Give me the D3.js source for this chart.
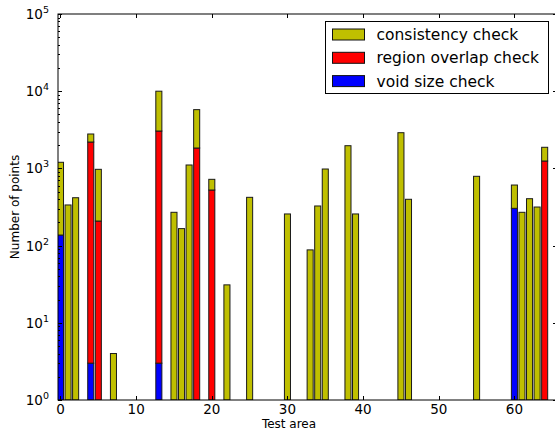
<!DOCTYPE html>
<html>
<head>
<meta charset="utf-8">
<script src="https://cdn.jsdelivr.net/npm/d3@7"></script>
<style>
body { margin: 0; background: #fff; }
text { font-family: "DejaVu Sans", sans-serif; fill: #000; }
</style>
</head>
<body>
<svg width="555" height="433"></svg>
<script>
// test areas and the points flagged by each check (stacked)
var areas       = [0, 1, 2, 4, 5, 7, 13, 15, 16, 17, 18, 20, 22, 25, 30, 33, 34, 35, 38, 39, 45, 46, 55, 60, 61, 62, 63, 64];
var voidSize    = [137, 0, 0, 3, 0, 0, 3, 0, 0, 0, 0, 0, 0, 0, 0, 0, 0, 0, 0, 0, 0, 0, 0, 304, 0, 0, 0, 0];
var regionOvl   = [0, 0, 0, 2193, 208, 0, 3047, 0, 0, 0, 1837, 525, 0, 0, 0, 0, 0, 0, 0, 0, 0, 0, 0, 0, 0, 0, 0, 1247];
var consistency = [1063, 336, 417, 594, 765, 4, 6950, 270, 166, 1107, 3933, 197, 31, 422, 257, 88, 326, 982, 1968, 257, 2900, 398, 790, 305, 270, 405, 316, 630];

var seriesNames = ["consistency check", "region overlap check", "void size check"];
var xTicks = [0, 10, 20, 30, 40, 50, 60];

var svg = d3.select("svg"),
	axL = 58, axR = 557, axT = 14, axB = 400;

var x = d3.scaleLinear().domain([-0.33, 65.63]).range([axL, axR]);
var y = d3.scaleLog().domain([1, 1e5]).range([axB, axT]);

var barW = 0.8;

svg.append("clipPath").attr("id", "clip")
	.append("rect")
	.attr("x", axL).attr("y", axT)
	.attr("width", axR - axL).attr("height", axB - axT);

var g = svg.append("g").attr("clip-path", "url(#clip)");

var rows = areas.map(function(a, i) {
	return { a: a, v: voidSize[i], r: regionOvl[i], c: consistency[i] };
});

function drawLayer(cls, color, lo, hi) {
	g.selectAll("." + cls)
		.data(rows.filter(function(d) { return hi(d) > lo(d) && hi(d) > 0; }))
		.enter().append("rect")
		.attr("class", cls)
		.attr("x", function(d) { return x(d.a - barW / 2); })
		.attr("width", function(d) { return x(d.a + barW / 2) - x(d.a - barW / 2); })
		.attr("y", function(d) { return y(hi(d)); })
		.attr("height", function(d) { return y(Math.max(lo(d), 1)) - y(hi(d)); })
		.attr("fill", color)
		.attr("stroke", "#1a1a1a")
		.attr("stroke-width", 1);
}

drawLayer("void", "#0000ff", function() { return 0; }, function(d) { return d.v; });
drawLayer("region", "#ff0000", function(d) { return d.v; }, function(d) { return d.v + d.r; });
drawLayer("cons", "#bfbf00", function(d) { return d.v + d.r; }, function(d) { return d.v + d.r + d.c; });

// frame
svg.append("rect")
	.attr("x", axL).attr("y", axT)
	.attr("width", axR - axL).attr("height", axB - axT)
	.attr("fill", "none").attr("stroke", "#000").attr("stroke-width", 1);

// x ticks (inward, bottom and top)
var xt = svg.append("g");
xTicks.forEach(function(t) {
	var px = Math.round(x(t)) + 0.5;
	xt.append("line").attr("x1", px).attr("x2", px).attr("y1", axB).attr("y2", axB - 4).attr("stroke", "#000");
	xt.append("line").attr("x1", px).attr("x2", px).attr("y1", axT).attr("y2", axT + 4).attr("stroke", "#000");
	xt.append("text").attr("x", x(t)).attr("y", 414)
		.attr("text-anchor", "middle").attr("font-size", 13.5).text(t);
});

// y ticks, major and minor
var yt = svg.append("g");
y.ticks().forEach(function(t) {
	var e = Math.log10(t);
	var major = Math.abs(e - Math.round(e)) < 1e-9;
	var len = major ? 4 : 2;
	var py = Math.round(y(t)) + 0.5;
	yt.append("line").attr("x1", axL).attr("x2", axL + len).attr("y1", py).attr("y2", py).attr("stroke", "#000");
	yt.append("line").attr("x1", axR).attr("x2", axR - len).attr("y1", py).attr("y2", py).attr("stroke", "#000");
	if (major) {
		var lab = yt.append("text").attr("x", 49).attr("y", y(t) + 5)
			.attr("text-anchor", "end").attr("font-size", 13.5);
		lab.append("tspan").text("10");
		lab.append("tspan").attr("dy", -6).attr("font-size", 9.5).text(Math.round(e));
	}
});

// axis labels
svg.append("text").attr("x", 289).attr("y", 428)
	.attr("text-anchor", "middle").attr("font-size", 12).text("Test area");
svg.append("text")
	.attr("transform", "translate(19,207) rotate(-90)")
	.attr("text-anchor", "middle").attr("font-size", 12).text("Number of points");

// legend
var legColors = ["#bfbf00", "#ff0000", "#0000ff"];
var leg = svg.append("g").attr("transform", "translate(325.5,21.5)");
leg.append("rect").attr("width", 223).attr("height", 72)
	.attr("fill", "#fff").attr("stroke", "#000").attr("stroke-width", 1);
var item = leg.selectAll(".item")
	.data(seriesNames)
	.enter().append("g")
	.attr("class", "item")
	.attr("transform", function(d, i) { return "translate(0," + (13 + i * 23.3) + ")"; });
item.append("rect")
	.attr("x", 7).attr("y", -5.5).attr("width", 32).attr("height", 11)
	.attr("fill", function(d, i) { return legColors[i]; })
	.attr("stroke", "#111").attr("stroke-width", 1);
item.append("text")
	.attr("x", 51).attr("y", 5.5)
	.attr("font-size", 15.5)
	.text(function(d) { return d; });
</script>
</body>
</html>
